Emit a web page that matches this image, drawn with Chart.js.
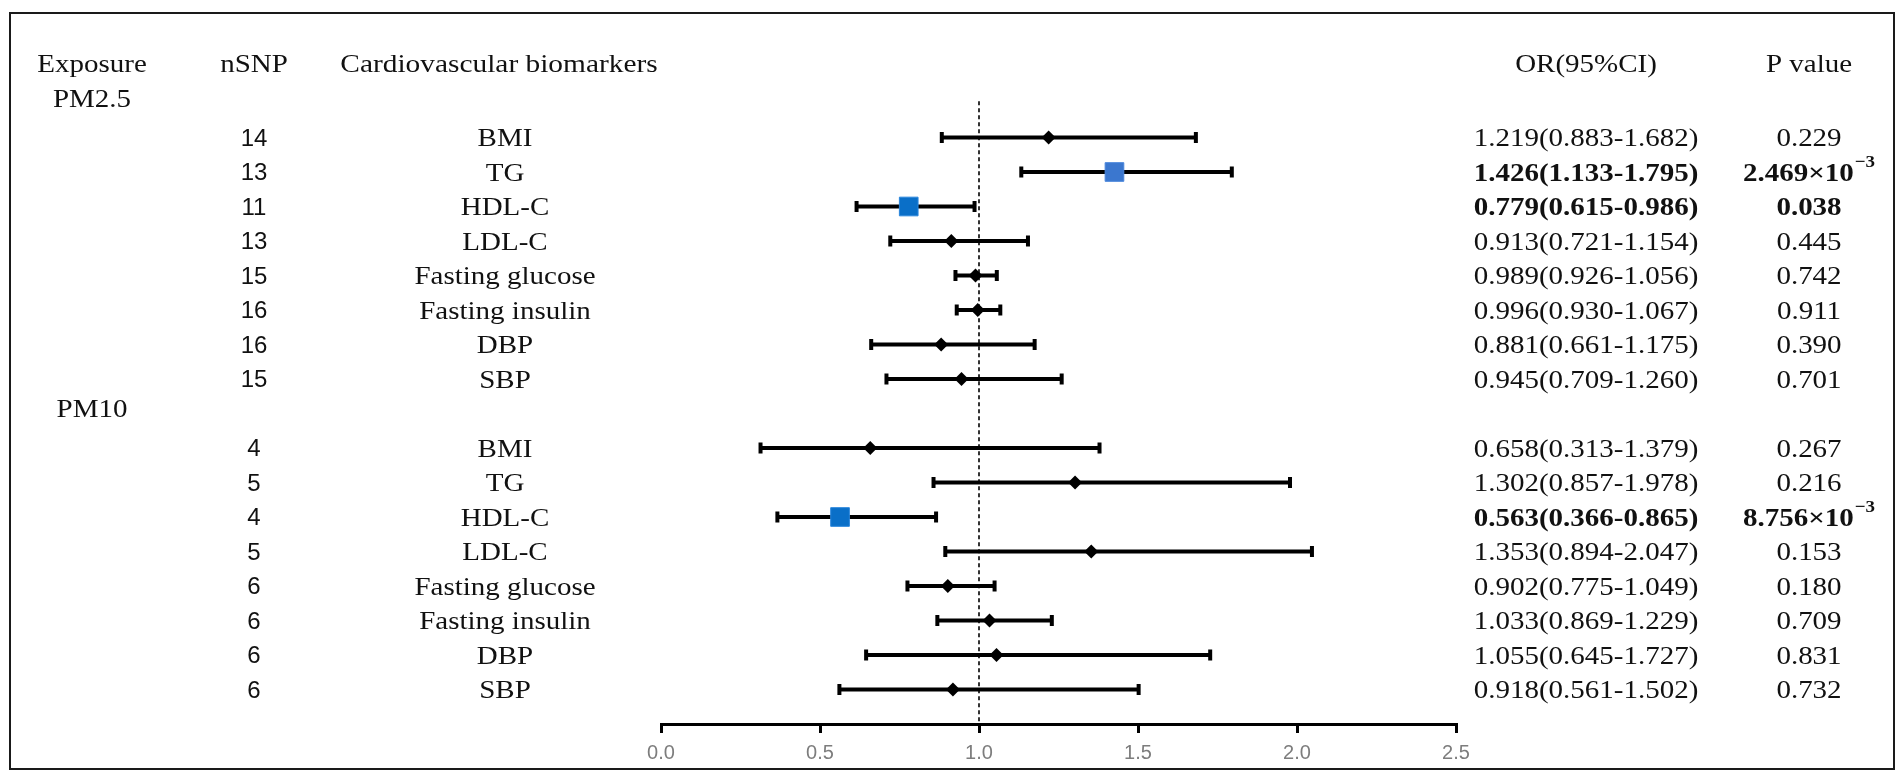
<!DOCTYPE html>
<html>
<head>
<meta charset="utf-8">
<title>Forest plot</title>
<script src="https://cdn.jsdelivr.net/npm/chart.js@4.4.1/dist/chart.umd.min.js"></script>
<style>
  html, body { margin: 0; padding: 0; background: #fff; }
  #wrap { position: relative; width: 1902px; height: 777px; overflow: hidden; }
  #forest { position: absolute; left: 0; top: 0; }
  #frame { position: absolute; left: 9px; top: 12px; width: 1886px; height: 758px;
           border: 2px solid #1a1a1a; box-sizing: border-box; pointer-events: none; }
</style>
</head>
<body>
<div id="wrap">
  <canvas id="forest" width="1902" height="777"></canvas>
  <div id="frame"></div>
</div>
<script>
// data
const exposures = ['PM2.5', 'PM10'];
const biomarkers = ['BMI', 'TG', 'HDL-C', 'LDL-C', 'Fasting glucose', 'Fasting insulin', 'DBP', 'SBP'];

const nsnpPM25 = [14, 13, 11, 13, 15, 16, 16, 15];
const orPM25   = [1.219, 1.426, 0.779, 0.913, 0.989, 0.996, 0.881, 0.945];
const loPM25   = [0.883, 1.133, 0.615, 0.721, 0.926, 0.930, 0.661, 0.709];
const hiPM25   = [1.682, 1.795, 0.986, 1.154, 1.056, 1.067, 1.175, 1.260];
const pPM25    = [0.229, 2.469e-3, 0.038, 0.445, 0.742, 0.911, 0.390, 0.701];

const nsnpPM10 = [4, 5, 4, 5, 6, 6, 6, 6];
const orPM10   = [0.658, 1.302, 0.563, 1.353, 0.902, 1.033, 1.055, 0.918];
const loPM10   = [0.313, 0.857, 0.366, 0.894, 0.775, 0.869, 0.645, 0.561];
const hiPM10   = [1.379, 1.978, 0.865, 2.047, 1.049, 1.229, 1.727, 1.502];
const pPM10    = [0.267, 0.216, 8.756e-3, 0.153, 0.180, 0.709, 0.831, 0.732];

const xTicks = [0, 0.5, 1.0, 1.5, 2.0, 2.5];

// one row per exposure/biomarker pair, each exposure block gets a label row on top
const groups = [
  { n: nsnpPM25, or: orPM25, lo: loPM25, hi: hiPM25, p: pPM25 },
  { n: nsnpPM10, or: orPM10, lo: loPM10, hi: hiPM10, p: pPM10 }
];
const rows = [];
groups.forEach((g, gi) => {
  biomarkers.forEach((name, i) => {
    rows.push({ k: gi * 9 + i, name, n: g.n[i], or: g.or[i], lo: g.lo[i], hi: g.hi[i], p: g.p[i] });
  });
});
const isSig = r => r.p < 0.05;

const SERIF = '"Liberation Serif", "Times New Roman", serif';
const SANS = '"Liberation Sans", Arial, sans-serif';
const SX = 1.115; // the figure's text is a little wider than plain Times

function put(ctx, str, x, yc, size, weight, family, align, sx) {
  ctx.font = `${weight} ${size}px ${family}`;
  const w = ctx.measureText(str).width * sx;
  const x0 = align === 'center' ? x - w / 2 : (align === 'right' ? x - w : x);
  ctx.save();
  ctx.translate(x0, yc + size * 0.34);
  ctx.scale(sx, 1);
  ctx.textAlign = 'left';
  ctx.textBaseline = 'alphabetic';
  ctx.fillText(str, 0, 0);
  ctx.restore();
}

function fmtCI(r) {
  return `${r.or.toFixed(3)}(${r.lo.toFixed(3)}-${r.hi.toFixed(3)})`;
}

// p value, with ×10^e when small
function putP(ctx, p, x, yc, weight) {
  if (p >= 0.01) {
    put(ctx, p.toFixed(3), x, yc, 26, weight, SERIF, 'center', SX);
    return;
  }
  const e = Math.floor(Math.log10(p));
  const mant = (p / Math.pow(10, e)).toFixed(3) + '\u00d710';
  const sup = '\u2212' + Math.abs(e);
  ctx.font = `${weight} 26px ${SERIF}`;
  const w1 = ctx.measureText(mant).width * SX;
  ctx.font = `${weight} 17px ${SERIF}`;
  const w2 = ctx.measureText(sup).width * SX;
  const x0 = x - (w1 + w2 + 1) / 2;
  put(ctx, mant, x0, yc, 26, weight, SERIF, 'left', SX);
  put(ctx, sup, x0 + w1 + 1, yc - 11, 17, weight, SERIF, 'left', SX);
}

const COL = { exposure: 92, nsnp: 254, header: 499, marker: 505, ci: 1586, p: 1809 };

const tableText = {
  id: 'tableText',
  afterDraw(chart) {
    const ctx = chart.ctx;
    const y = chart.scales.y;
    ctx.save();
    ctx.fillStyle = '#111';

    const hy = y.getPixelForValue(-2.16);
    put(ctx, 'Exposure', COL.exposure, hy, 26, 'normal', SERIF, 'center', SX);
    put(ctx, 'nSNP', COL.nsnp, hy, 26, 'normal', SERIF, 'center', SX);
    put(ctx, 'Cardiovascular biomarkers', COL.header, hy, 26, 'normal', SERIF, 'center', 1.13);
    put(ctx, 'OR(95%CI)', COL.ci, hy, 26, 'normal', SERIF, 'center', SX);
    put(ctx, 'P value', COL.p, hy, 26, 'normal', SERIF, 'center', SX);

    exposures.forEach((ex, gi) => {
      put(ctx, ex, COL.exposure, y.getPixelForValue(gi * 9 - 1.15), 26, 'normal', SERIF, 'center', SX);
    });

    rows.forEach(r => {
      const yc = y.getPixelForValue(r.k);
      const w = isSig(r) ? 'bold' : 'normal';
      put(ctx, String(r.n), COL.nsnp, yc, 24, 'normal', SANS, 'center', 1);
      put(ctx, r.name, COL.marker, yc, 26, 'normal', SERIF, 'center', SX);
      put(ctx, fmtCI(r), COL.ci, yc, 26, w, SERIF, 'center', SX);
      putP(ctx, r.p, COL.p, yc, w);
    });
    ctx.restore();
  }
};

const lastRow = rows[rows.length - 1].k;

const datasets = [];
// point estimates
datasets.push({
  type: 'scatter',
  data: rows.map(r => ({ x: r.or, y: r.k })),
  pointStyle: rows.map(r => isSig(r) ? 'rect' : 'rectRot'),
  pointRadius: rows.map(r => isSig(r) ? 13.2 : 7),
  pointBackgroundColor: rows.map(r => isSig(r) ? (r.or > 1 ? '#3b77cf' : '#0a6fc8') : '#000'),
  pointBorderColor: rows.map(r => isSig(r) ? (r.or > 1 ? '#4a86dc' : '#2a86dc') : '#000'),
  pointBorderWidth: rows.map(r => isSig(r) ? 1 : 0),
  order: 0
});
// whisker caps
datasets.push({
  type: 'scatter',
  data: rows.flatMap(r => [{ x: r.lo, y: r.k }, { x: r.hi, y: r.k }]),
  pointStyle: 'line',
  pointRotation: 90,
  pointRadius: 5.5,
  pointBorderWidth: 4,
  pointBorderColor: '#000',
  order: 1
});
// confidence intervals
rows.forEach(r => {
  datasets.push({
    type: 'line',
    data: [{ x: r.lo, y: r.k }, { x: r.hi, y: r.k }],
    borderColor: '#000',
    borderWidth: 4,
    pointRadius: 0,
    order: 2
  });
});
// null line at OR = 1
datasets.push({
  type: 'line',
  data: [{ x: 1, y: -1.05 }, { x: 1, y: lastRow + 1 }],
  borderColor: '#333',
  borderWidth: 2,
  borderDash: [4, 3],
  pointRadius: 0,
  order: 3
});

new Chart(document.getElementById('forest'), {
  type: 'scatter',
  data: { datasets },
  options: {
    responsive: false,
    animation: false,
    devicePixelRatio: 1,
    events: [],
    layout: { padding: { left: 661, right: 446, top: 68.5, bottom: 0 } },
    plugins: { legend: { display: false }, tooltip: { enabled: false } },
    scales: {
      x: {
        type: 'linear',
        position: 'bottom',
        min: xTicks[0],
        max: xTicks[xTicks.length - 1],
        afterBuildTicks: scale => { scale.ticks = xTicks.map(v => ({ value: v })); },
        afterFit: scale => { scale.height = 53; },
        ticks: {
          callback: v => Number(v).toFixed(1),
          color: '#7d7d7d',
          font: { family: SANS, size: 20 },
          padding: 8,
          maxRotation: 0
        },
        grid: { drawOnChartArea: false, drawTicks: true, tickLength: 9, color: '#000', lineWidth: 3 },
        border: { display: true, color: '#000', width: 3 }
      },
      y: {
        type: 'linear',
        reverse: true,
        min: -2,
        max: lastRow + 1,
        display: false
      }
    }
  },
  plugins: [tableText]
});
</script>
</body>
</html>
